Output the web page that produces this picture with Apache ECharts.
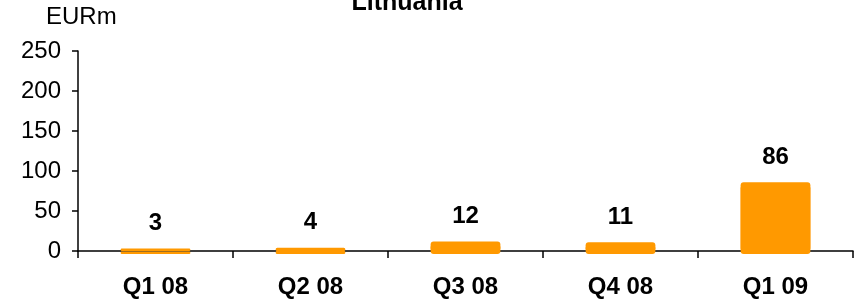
<!DOCTYPE html>
<html>
<head>
<meta charset="utf-8">
<script src="https://cdn.jsdelivr.net/npm/echarts@6/dist/echarts.min.js"></script>
<style>
  html, body { margin: 0; padding: 0; background: #fff; }
  #chart { width: 864px; height: 301px; }
</style>
</head>
<body>
<div id="chart"></div>
<script>
// 季度分类与数值
const quarters = ['Q1 08', 'Q2 08', 'Q3 08', 'Q4 08', 'Q1 09'];
const values = [3, 4, 12, 11, 86];
const yTicks = [0, 50, 100, 150, 200, 250];

const chart = echarts.init(document.getElementById('chart'));

const option = {
    animation: false,
    title: {
        text: 'Lithuania',
        left: 402,
        textAlign: 'center',
        top: -14,
        textStyle: {
            fontFamily: 'Liberation Sans',
            fontSize: 25,
            fontWeight: 'bold',
            color: '#000'
        }
    },
    graphic: [{
        type: 'text',
        left: 46,
        top: 5,
        style: {
            text: 'EURm',
            font: '24px "Liberation Sans"',
            fill: '#000'
        }
    }],
    grid: {
        left: 78,
        right: 11,
        top: 51,
        bottom: 50
    },
    xAxis: {
        type: 'category',
        data: quarters,
        axisLine: { lineStyle: { color: '#000', width: 1.5 } },
        axisTick: { show: true, length: 7, lineStyle: { color: '#000', width: 1.5 } },
        axisLabel: {
            margin: 24,
            fontFamily: 'Liberation Sans',
            fontSize: 24,
            fontWeight: 'bold',
            color: '#000'
        }
    },
    yAxis: {
        type: 'value',
        min: yTicks[0],
        max: yTicks[yTicks.length - 1],
        interval: 50,
        splitLine: { show: false },
        axisLine: { show: true, lineStyle: { color: '#000', width: 1.5 } },
        axisTick: { show: true, length: 6, lineStyle: { color: '#000', width: 1.5 } },
        axisLabel: {
            margin: 17,
            fontFamily: 'Liberation Sans',
            fontSize: 24,
            color: '#000'
        }
    },
    series: [{
        type: 'bar',
        data: values,
        barWidth: '45%',
        itemStyle: {
            color: '#FF9900',
            borderRadius: 3,
            shadowColor: '#FF9900',
            shadowBlur: 0,
            shadowOffsetY: 3
        },
        label: {
            show: true,
            position: 'top',
            distance: 13,
            fontFamily: 'Liberation Sans',
            fontSize: 24,
            fontWeight: 'bold',
            color: '#000'
        }
    }]
};

chart.setOption(option);
</script>
</body>
</html>
